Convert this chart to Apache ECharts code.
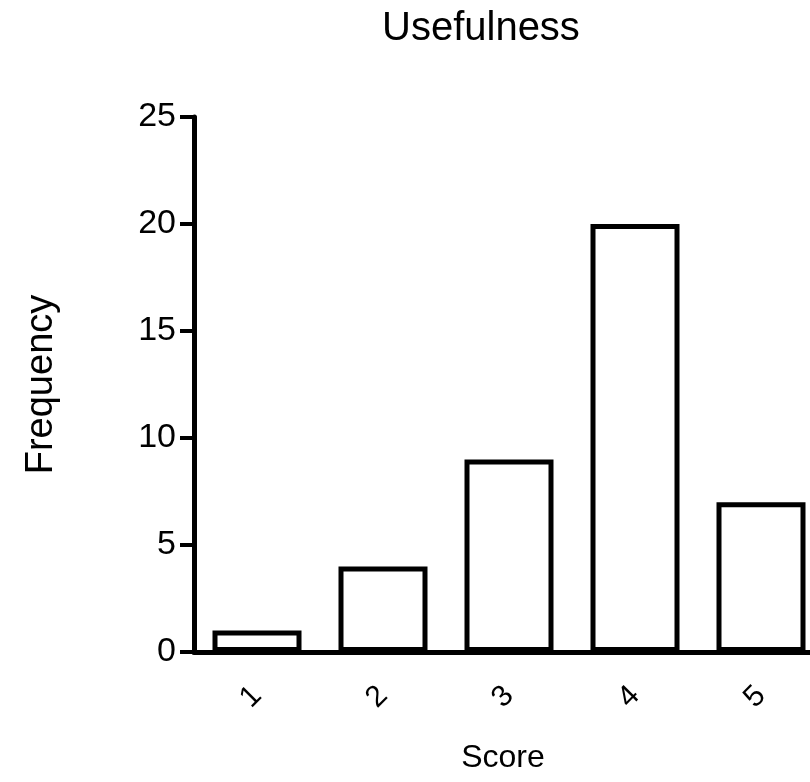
<!DOCTYPE html>
<html>
<head>
<meta charset="utf-8">
<script src="https://cdn.jsdelivr.net/npm/echarts@6/dist/echarts.min.js"></script>
<style>html,body{margin:0;padding:0;background:#fff;}#c{width:810px;height:782px;}</style>
</head>
<body>
<div id="c"></div>
<script>
const categories = ['1', '2', '3', '4', '5'];
const frequency = [1, 4, 9, 20, 7];
const titleText = 'Usefulness';
const xName = 'Score';
const yName = 'Frequency';

const chart = echarts.init(document.getElementById('c'), null, {renderer: 'canvas'});
const font = 'Liberation Sans, Arial, Helvetica, sans-serif';
chart.setOption({
  animation: false,
  backgroundColor: '#fff',
  title: {
    text: titleText,
    left: 377,
    top: 4,
    textStyle: {fontFamily: font, fontSize: 40, fontWeight: 'normal', color: '#000'}
  },
  grid: {left: 194, width: 630, top: 117, bottom: 130, containLabel: false, outerBoundsMode: 'none'},
  xAxis: {
    type: 'category',
    data: categories,
    name: xName,
    nameLocation: 'middle',
    nameGap: 90,
    nameTextStyle: {fontFamily: font, fontSize: 32, color: '#000', padding: [0, 12, 0, 0]},
    axisLine: {lineStyle: {color: '#000', width: 5}},
    axisTick: {alignWithLabel: true, length: 18, lineStyle: {color: '#000', width: 4}},
    axisLabel: {rotate: 45, margin: 39, fontFamily: font, fontSize: 30, color: '#000'},
    splitLine: {show: false}
  },
  yAxis: {
    type: 'value',
    min: 0,
    max: 25,
    interval: 5,
    name: yName,
    nameLocation: 'middle',
    nameGap: 133,
    nameRotate: 90,
    nameTextStyle: {fontFamily: font, fontSize: 38, color: '#000'},
    axisLine: {show: true, lineStyle: {color: '#000', width: 5}},
    axisTick: {show: true, length: 14, lineStyle: {color: '#000', width: 4}},
    axisLabel: {margin: 18, fontFamily: font, fontSize: 34, color: '#000'},
    splitLine: {show: false}
  },
  series: [{
    type: 'bar',
    data: frequency,
    barWidth: 89,
    itemStyle: {color: '#fff', borderColor: '#000', borderWidth: 5},
    z: 1
  }]
});
</script>
</body>
</html>
